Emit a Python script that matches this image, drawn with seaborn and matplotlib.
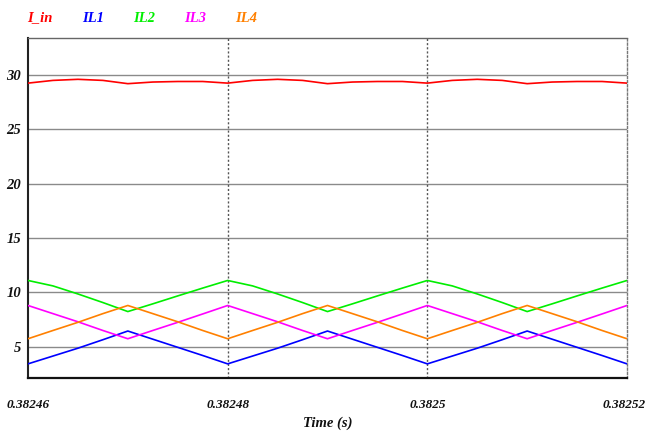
import matplotlib
matplotlib.use("Agg")
import matplotlib.pyplot as plt
import seaborn as sns
import pandas as pd

# ---- data ----
time = [0.38246, 0.3824625, 0.382465, 0.3824675, 0.38247, 0.3824725, 0.382475, 0.3824775,
        0.38248, 0.3824825, 0.382485, 0.3824875, 0.38249, 0.3824925, 0.382495, 0.3824975,
        0.3825, 0.3825025, 0.382505, 0.3825075, 0.38251, 0.3825125, 0.382515, 0.3825175,
        0.38252]
I_in = [29.25, 29.5, 29.6, 29.5, 29.2, 29.35, 29.4, 29.4,
        29.25, 29.5, 29.6, 29.5, 29.2, 29.35, 29.4, 29.4,
        29.25, 29.5, 29.6, 29.5, 29.2, 29.35, 29.4, 29.4,
        29.25]
IL1 = [3.43, 4.15, 4.87, 5.65, 6.45, 5.7, 4.95, 4.2,
       3.43, 4.15, 4.87, 5.65, 6.45, 5.7, 4.95, 4.2,
       3.43, 4.15, 4.87, 5.65, 6.45, 5.7, 4.95, 4.2,
       3.43]
IL2 = [11.1, 10.6, 9.86, 9.07, 8.24, 8.95, 9.68, 10.4,
       11.1, 10.6, 9.86, 9.07, 8.24, 8.95, 9.68, 10.4,
       11.1, 10.6, 9.86, 9.07, 8.24, 8.95, 9.68, 10.4,
       11.1]
IL3 = [8.8, 8.05, 7.3, 6.5, 5.74, 6.5, 7.25, 8.02,
       8.8, 8.05, 7.3, 6.5, 5.74, 6.5, 7.25, 8.02,
       8.8, 8.05, 7.3, 6.5, 5.74, 6.5, 7.25, 8.02,
       8.8]
IL4 = [5.74, 6.5, 7.25, 8.05, 8.8, 8.05, 7.3, 6.5,
       5.74, 6.5, 7.25, 8.05, 8.8, 8.05, 7.3, 6.5,
       5.74, 6.5, 7.25, 8.05, 8.8, 8.05, 7.3, 6.5,
       5.74]

series_names = ["I_in", "IL1", "IL2", "IL3", "IL4"]
series_colors = ["#ff0000", "#0000ff", "#00ee00", "#ff00ff", "#ff8000"]
xticks = [0.38246, 0.38248, 0.3825, 0.38252]
xtick_labels = ["0.38246", "0.38248", "0.3825", "0.38252"]
yticks = [5, 10, 15, 20, 25, 30]
x_label = "Time (s)"

# ---- build long-form table ----
values = {"I_in": I_in, "IL1": IL1, "IL2": IL2, "IL3": IL3, "IL4": IL4}
rows = []
for name in series_names:
    for t, v in zip(time, values[name]):
        rows.append({"time": t, "value": v, "series": name})
df = pd.DataFrame(rows)

sns.set_style("white")
plt.rcParams["font.family"] = ["Liberation Serif", "DejaVu Serif"]

fig = plt.figure(figsize=(6.47, 4.34), dpi=100)
ax = fig.add_axes([28 / 647, 1 - 378 / 434, (627 - 28) / 647, (378 - 38) / 434])

sns.lineplot(data=df, x="time", y="value", hue="series", hue_order=series_names,
             palette=dict(zip(series_names, series_colors)), linewidth=1.2,
             legend=False, ax=ax, zorder=3)

ax.set_xlim(0.38246, 0.38252)
ax.set_ylim(2.13, 33.4)
ax.set_xticks(xticks)
# last label is drawn separately (nudged left so it stays inside the figure)
ax.set_xticklabels(xtick_labels[:-1] + [""])
ax.set_yticks(yticks)
ax.set_yticklabels([str(v) for v in yticks])

font_kw = dict(fontweight="bold", fontstyle="italic", fontsize=10.5)
tick_kw = dict(fontweight="bold", fontstyle="italic", fontsize=9.5, color="#111111")
for lab in ax.get_xticklabels():
    lab.set_fontweight("bold")
    lab.set_fontstyle("italic")
    lab.set_fontsize(9.5)
    lab.set_color("#111111")
ax.annotate(xtick_labels[-1], xy=(xticks[-1], 0), xycoords=ax.get_xaxis_transform(),
            xytext=(-2, -15), textcoords="offset points", ha="center", va="top", **tick_kw)
for lab in ax.get_yticklabels():
    lab.set_fontweight("bold")
    lab.set_fontstyle("italic")
    lab.set_fontsize(10.5)
    lab.set_color("#111111")
ax.tick_params(axis="both", length=0)
ax.tick_params(axis="x", pad=15)
ax.tick_params(axis="y", pad=5)

ax.set_xlabel(x_label, **font_kw, color="#111111", labelpad=4)
ax.set_ylabel("")

# grids
ax.grid(False)
for y in yticks:
    ax.axhline(y, color="#8a8a8a", linewidth=1.0, zorder=1)
for x in xticks[1:-1]:
    ax.axvline(x, color="#555555", linewidth=1.0, linestyle=(0, (1.5, 1.5)), zorder=1)

# spines
ax.spines["left"].set_color("#222222")
ax.spines["left"].set_linewidth(1.5)
ax.spines["bottom"].set_color("#111111")
ax.spines["bottom"].set_linewidth(1.6)
ax.spines["top"].set_color("#666666")
ax.spines["top"].set_linewidth(1.0)
ax.spines["right"].set_color("#777777")
ax.spines["right"].set_linewidth(1.0)
ax.spines["right"].set_linestyle((0, (1.5, 1.5)))

# legend as coloured text labels above the plot
legend_x = [27, 82, 133, 184, 235]
for name, col, px in zip(series_names, series_colors, legend_x):
    fig.text(px / 647, 1 - 18 / 434, name, color=col, ha="left", va="center", **font_kw)

fig.savefig("out.png", dpi=100)
